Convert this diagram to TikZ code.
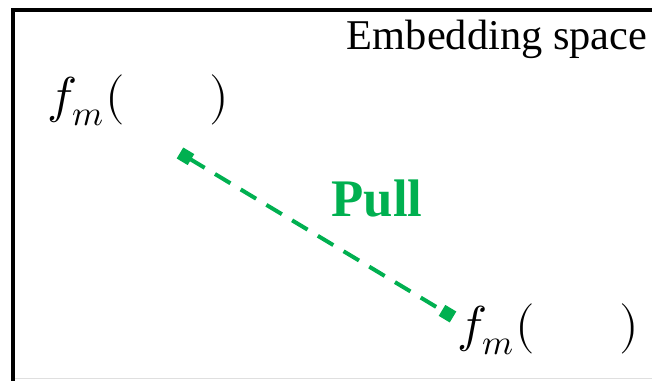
\documentclass[tikz,border=0pt]{standalone}
\usepackage{fontspec}
\setmainfont{Liberation Serif}
\usepackage{unicode-math}
\setmathfont{Latin Modern Math}
\usetikzlibrary{arrows.meta}
\definecolor{pullgreen}{RGB}{0,176,80}
\begin{document}
\begin{tikzpicture}[x=0.25pt,y=-0.25pt,
  mathlbl/.style={anchor=base west,inner sep=0pt,font=\fontsize{12.6}{14}\selectfont},
  pullline/.style={pullgreen,line width=1pt,dash pattern=on 4.5pt off 3pt,
    {Square[length=3.2pt,width=3.2pt]}-{Square[length=3.2pt,width=3.2pt]}}]
\useasboundingbox (0,0) rectangle (652,381);
\draw[gray!25,line width=0.4pt] (13,378.5) -- (652,378.5);
\draw[black,line width=1pt] (13,381) -- (13,10.5) -- (652,10.5);
\node[anchor=base east,inner sep=0pt,font=\fontsize{10.6}{12}\selectfont] (title) at (648,50) {Embedding space};
\node[mathlbl] (f1) at (47,113) {$f_m(\hspace{21pt})$};
\node[mathlbl] (f2) at (457,342) {$f_m(\hspace{21pt})$};
\node[anchor=base,inner sep=0pt,text=pullgreen,font=\fontsize{13.2}{15}\selectfont\bfseries] (pull) at (377,217) {Pull};
\coordinate (a) at (180,153);
\coordinate (b) at (453,317);
\draw[pullline] (a) -- (b);
\end{tikzpicture}
\end{document}
